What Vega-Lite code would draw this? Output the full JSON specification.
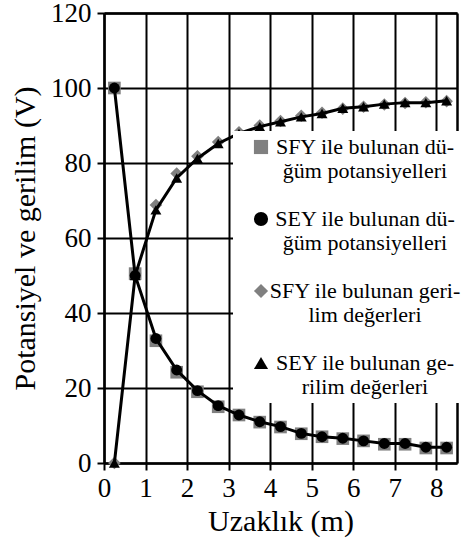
{
  "$schema": "https://vega.github.io/schema/vega-lite/v6.json",
  "width": 353,
  "height": 450,
  "autosize": {"type": "none"},
  "padding": {"left": 104, "top": 13, "right": 7, "bottom": 83},
  "data": {"values": [
    {"x": 0.25, "v": 100, "s": "SFY ile bulunan düğüm potansiyelleri"},
    {"x": 0.75, "v": 50.5, "s": "SFY ile bulunan düğüm potansiyelleri"},
    {"x": 1.25, "v": 32.6, "s": "SFY ile bulunan düğüm potansiyelleri"},
    {"x": 1.75, "v": 24.2, "s": "SFY ile bulunan düğüm potansiyelleri"},
    {"x": 2.25, "v": 19.0, "s": "SFY ile bulunan düğüm potansiyelleri"},
    {"x": 2.75, "v": 15.0, "s": "SFY ile bulunan düğüm potansiyelleri"},
    {"x": 3.25, "v": 12.8, "s": "SFY ile bulunan düğüm potansiyelleri"},
    {"x": 3.75, "v": 10.9, "s": "SFY ile bulunan düğüm potansiyelleri"},
    {"x": 4.25, "v": 9.6, "s": "SFY ile bulunan düğüm potansiyelleri"},
    {"x": 4.75, "v": 7.8, "s": "SFY ile bulunan düğüm potansiyelleri"},
    {"x": 5.25, "v": 7.0, "s": "SFY ile bulunan düğüm potansiyelleri"},
    {"x": 5.75, "v": 6.5, "s": "SFY ile bulunan düğüm potansiyelleri"},
    {"x": 6.25, "v": 5.9, "s": "SFY ile bulunan düğüm potansiyelleri"},
    {"x": 6.75, "v": 5.0, "s": "SFY ile bulunan düğüm potansiyelleri"},
    {"x": 7.25, "v": 5.0, "s": "SFY ile bulunan düğüm potansiyelleri"},
    {"x": 7.75, "v": 4.0, "s": "SFY ile bulunan düğüm potansiyelleri"},
    {"x": 8.25, "v": 4.0, "s": "SFY ile bulunan düğüm potansiyelleri"},
    {"x": 0.25, "v": 100, "s": "SEY ile bulunan düğüm potansiyelleri"},
    {"x": 0.75, "v": 50.0, "s": "SEY ile bulunan düğüm potansiyelleri"},
    {"x": 1.25, "v": 33.2, "s": "SEY ile bulunan düğüm potansiyelleri"},
    {"x": 1.75, "v": 24.8, "s": "SEY ile bulunan düğüm potansiyelleri"},
    {"x": 2.25, "v": 19.3, "s": "SEY ile bulunan düğüm potansiyelleri"},
    {"x": 2.75, "v": 15.3, "s": "SEY ile bulunan düğüm potansiyelleri"},
    {"x": 3.25, "v": 12.8, "s": "SEY ile bulunan düğüm potansiyelleri"},
    {"x": 3.75, "v": 11.0, "s": "SEY ile bulunan düğüm potansiyelleri"},
    {"x": 4.25, "v": 9.7, "s": "SEY ile bulunan düğüm potansiyelleri"},
    {"x": 4.75, "v": 7.9, "s": "SEY ile bulunan düğüm potansiyelleri"},
    {"x": 5.25, "v": 7.0, "s": "SEY ile bulunan düğüm potansiyelleri"},
    {"x": 5.75, "v": 6.6, "s": "SEY ile bulunan düğüm potansiyelleri"},
    {"x": 6.25, "v": 5.9, "s": "SEY ile bulunan düğüm potansiyelleri"},
    {"x": 6.75, "v": 5.2, "s": "SEY ile bulunan düğüm potansiyelleri"},
    {"x": 7.25, "v": 5.2, "s": "SEY ile bulunan düğüm potansiyelleri"},
    {"x": 7.75, "v": 4.2, "s": "SEY ile bulunan düğüm potansiyelleri"},
    {"x": 8.25, "v": 4.2, "s": "SEY ile bulunan düğüm potansiyelleri"},
    {"x": 0.25, "v": 0, "s": "SFY ile bulunan gerilim değerleri"},
    {"x": 0.75, "v": 50.7, "s": "SFY ile bulunan gerilim değerleri"},
    {"x": 1.25, "v": 68.8, "s": "SFY ile bulunan gerilim değerleri"},
    {"x": 1.75, "v": 77.2, "s": "SFY ile bulunan gerilim değerleri"},
    {"x": 2.25, "v": 81.8, "s": "SFY ile bulunan gerilim değerleri"},
    {"x": 2.75, "v": 85.6, "s": "SFY ile bulunan gerilim değerleri"},
    {"x": 3.25, "v": 88.2, "s": "SFY ile bulunan gerilim değerleri"},
    {"x": 3.75, "v": 90.0, "s": "SFY ile bulunan gerilim değerleri"},
    {"x": 4.25, "v": 91.2, "s": "SFY ile bulunan gerilim değerleri"},
    {"x": 4.75, "v": 92.6, "s": "SFY ile bulunan gerilim değerleri"},
    {"x": 5.25, "v": 93.4, "s": "SFY ile bulunan gerilim değerleri"},
    {"x": 5.75, "v": 94.5, "s": "SFY ile bulunan gerilim değerleri"},
    {"x": 6.25, "v": 95.0, "s": "SFY ile bulunan gerilim değerleri"},
    {"x": 6.75, "v": 95.6, "s": "SFY ile bulunan gerilim değerleri"},
    {"x": 7.25, "v": 96.0, "s": "SFY ile bulunan gerilim değerleri"},
    {"x": 7.75, "v": 96.2, "s": "SFY ile bulunan gerilim değerleri"},
    {"x": 8.25, "v": 96.5, "s": "SFY ile bulunan gerilim değerleri"},
    {"x": 0.25, "v": 0, "s": "SEY ile bulunan gerilim değerleri"},
    {"x": 0.75, "v": 50.0, "s": "SEY ile bulunan gerilim değerleri"},
    {"x": 1.25, "v": 67.5, "s": "SEY ile bulunan gerilim değerleri"},
    {"x": 1.75, "v": 76.0, "s": "SEY ile bulunan gerilim değerleri"},
    {"x": 2.25, "v": 81.2, "s": "SEY ile bulunan gerilim değerleri"},
    {"x": 2.75, "v": 85.2, "s": "SEY ile bulunan gerilim değerleri"},
    {"x": 3.25, "v": 87.9, "s": "SEY ile bulunan gerilim değerleri"},
    {"x": 3.75, "v": 89.7, "s": "SEY ile bulunan gerilim değerleri"},
    {"x": 4.25, "v": 91.0, "s": "SEY ile bulunan gerilim değerleri"},
    {"x": 4.75, "v": 92.3, "s": "SEY ile bulunan gerilim değerleri"},
    {"x": 5.25, "v": 93.2, "s": "SEY ile bulunan gerilim değerleri"},
    {"x": 5.75, "v": 94.6, "s": "SEY ile bulunan gerilim değerleri"},
    {"x": 6.25, "v": 95.0, "s": "SEY ile bulunan gerilim değerleri"},
    {"x": 6.75, "v": 95.7, "s": "SEY ile bulunan gerilim değerleri"},
    {"x": 7.25, "v": 96.1, "s": "SEY ile bulunan gerilim değerleri"},
    {"x": 7.75, "v": 96.1, "s": "SEY ile bulunan gerilim değerleri"},
    {"x": 8.25, "v": 96.6, "s": "SEY ile bulunan gerilim değerleri"}
  ]},
  "layer": [
    {
      "transform": [{"filter": "indexof(datum.s, 'SFY') == 0"}],
      "mark": {"type": "point", "filled": true, "opacity": 1},
      "encoding": {
        "x": {"field": "x", "type": "quantitative",
          "scale": {"domain": [0, 8.5], "nice": false, "zero": false},
          "axis": {"title": "Uzaklık (m)", "values": [0,1,2,3,4,5,6,7,8], "labelFlush": false,
            "domainColor": "black", "domainWidth": 2.5,
            "grid": true, "gridColor": "black", "gridWidth": 2, "gridOpacity": 1,
            "tickColor": "black", "tickWidth": 2, "tickSize": 7,
            "labelColor": "black", "labelFont": "Liberation Serif", "labelFontSize": 27, "labelPadding": 5,
            "titleColor": "black", "titleFont": "Liberation Serif", "titleFontSize": 30, "titleFontWeight": "normal", "titlePadding": 5}},
        "y": {"field": "v", "type": "quantitative",
          "scale": {"domain": [0, 120], "nice": false},
          "axis": {"title": "Potansiyel ve gerilim (V)", "values": [0,20,40,60,80,100,120], "labelFlush": false,
            "domainColor": "black", "domainWidth": 2.5,
            "grid": true, "gridColor": "black", "gridWidth": 2, "gridOpacity": 1,
            "tickColor": "black", "tickWidth": 2, "tickSize": 7,
            "labelColor": "black", "labelFont": "Liberation Serif", "labelFontSize": 27, "labelPadding": 6,
            "titleColor": "black", "titleFont": "Liberation Serif", "titleFontSize": 30, "titleFontWeight": "normal", "titlePadding": 10}},
        "color": {"field": "s", "type": "nominal", "scale": {"domain": ["SFY ile bulunan düğüm potansiyelleri", "SEY ile bulunan düğüm potansiyelleri", "SFY ile bulunan gerilim değerleri", "SEY ile bulunan gerilim değerleri"], "range": ["#808080", "black", "#808080", "black"]},
          "legend": {
            "title": null, "orient": "none", "legendX": 129, "legendY": 118,
            "fillColor": "white", "padding": 5,
            "labelFont": "Liberation Serif", "labelColor": "black",
            "labelFontSize": 22, "labelLimit": 400, "labelAlign": "center", "labelBaseline": "middle", "labelOffset": 93,
            "symbolSize": 200, "symbolStrokeWidth": 0, "symbolOffset": 12, "rowPadding": 26,
            "labelExpr": "datum.label == 'SFY ile bulunan düğüm potansiyelleri' ? ['SFY ile bulunan dü-', 'ğüm potansiyelleri'] : datum.label == 'SEY ile bulunan düğüm potansiyelleri' ? ['SEY ile bulunan dü-', 'ğüm potansiyelleri'] : datum.label == 'SFY ile bulunan gerilim değerleri' ? ['SFY ile bulunan geri-', 'lim değerleri'] : ['SEY ile bulunan ge-', 'rilim değerleri']"
          }},
        "shape": {"field": "s", "type": "nominal", "scale": {"domain": ["SFY ile bulunan düğüm potansiyelleri", "SEY ile bulunan düğüm potansiyelleri", "SFY ile bulunan gerilim değerleri", "SEY ile bulunan gerilim değerleri"], "range": ["square", "circle", "diamond", "triangle-up"]}},
        "size": {"value": 160}
      }
    },
    {
      "transform": [{"filter": "indexof(datum.s, 'SEY') == 0"}],
      "mark": {"type": "line", "color": "black", "strokeWidth": 3},
      "encoding": {
        "x": {"field": "x", "type": "quantitative",
          "scale": {"domain": [0, 8.5], "nice": false, "zero": false},
          "axis": {"orient": "top", "title": null, "labels": false, "ticks": false, "grid": false, "domainColor": "black", "domainWidth": 2.5}},
        "y": {"field": "v", "type": "quantitative",
          "scale": {"domain": [0, 120], "nice": false},
          "axis": {"orient": "right", "title": null, "labels": false, "ticks": false, "grid": false, "domainColor": "black", "domainWidth": 2.5}},
        "detail": {"field": "s", "type": "nominal"}
      }
    },
    {
      "transform": [{"filter": "indexof(datum.s, 'SEY') == 0"}],
      "mark": {"type": "point", "filled": true, "opacity": 1},
      "encoding": {
        "x": {"field": "x", "type": "quantitative", "scale": {"domain": [0, 8.5], "nice": false, "zero": false}, "axis": null},
        "y": {"field": "v", "type": "quantitative", "scale": {"domain": [0, 120], "nice": false}, "axis": null},
        "color": {"field": "s", "type": "nominal"},
        "shape": {"field": "s", "type": "nominal"},
        "size": {"value": 120}
      }
    }
  ],
  "resolve": {"scale": {"color": "shared", "shape": "shared", "x": "shared", "y": "shared"}, "axis": {"x": "independent", "y": "independent"}}
}
